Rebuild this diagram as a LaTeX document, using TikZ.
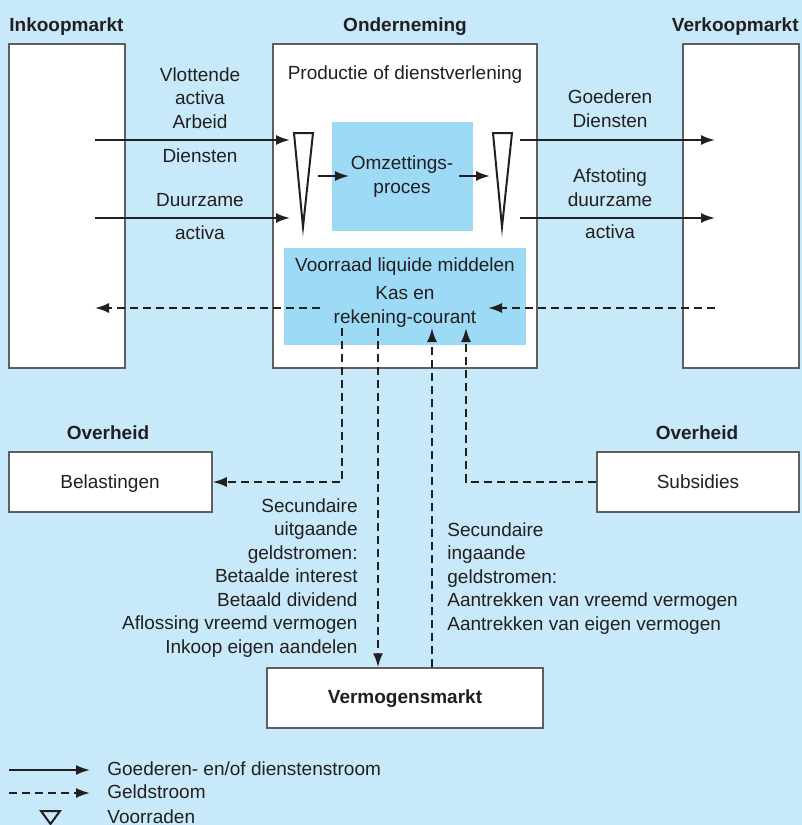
\documentclass[tikz,border=0pt]{standalone}
\usepackage{fontspec}
\setmainfont{Liberation Sans}
\usetikzlibrary{arrows.meta, fit}

\definecolor{bgblue}{RGB}{199,233,249}
\definecolor{midblue}{RGB}{157,218,246}
\definecolor{boxgrey}{RGB}{95,95,95}
\definecolor{ink}{RGB}{35,31,32}

\begin{document}
\begin{tikzpicture}[x=0.5pt, y=-0.5pt, >={Latex[length=7pt,width=5pt]},
  every node/.style={font=\fontsize{9.5}{11.75}\selectfont, text=ink, inner sep=0pt},
  head/.style={font=\fontsize{9.5}{11.75}\selectfont\bfseries},
  lbl/.style={align=center, anchor=base},
  box/.style={draw=boxgrey, line width=0.75pt, fill=white, inner sep=0pt},
  inner/.style={fill=midblue, inner sep=0pt},
  goods/.style={->, line width=1pt, draw=ink},
  money/.style={->, line width=1pt, draw=ink, dash pattern=on 4pt off 2.5pt},
  stock/.style={draw=ink, line width=1pt, line join=miter}]
  \fill [bgblue] (0,0) rectangle (802,825);
  \useasboundingbox (0,0) rectangle (802,825);

  % markets and firm
  \node [head, anchor=base west] (inkooplbl) at (9,31) {Inkoopmarkt};
  \node [head, anchor=base] (ondernlbl) at (405,31) {Onderneming};
  \node [head, anchor=base east] (verkooplbl) at (799,31) {Verkoopmarkt};
  \node [box, fit={(9,44) (125,368)}] (inkoop) {};
  \node [box, fit={(273,44) (537,368)}] (ondern) {};
  \node [box, fit={(683,44) (799,368)}] (verkoop) {};
  \node [anchor=base] (prod) at (405,79) {Productie of dienstverlening};
  \node [inner, fit={(332,122) (473,231)}] (omzet) {};
  \node [lbl] at (402,193) {Omzettings-\\proces};
  \node [inner, fit={(284,248) (526,345)}] (liquide) {};
  \node [anchor=base] (vrdlbl) at (405,271) {Voorraad liquide middelen};
  \node [lbl] (kaslbl) at (405,323) {Kas en\\rekening-courant};

  % voorraden
  \draw [stock] (294,133) -- (313,133) -- (303,227) -- cycle;
  \draw [stock] (493,133) -- (512,133) -- (502,227) -- cycle;

  % goederen- en dienstenstromen
  \coordinate (inA) at (95,140);
  \coordinate (inAe) at (290,140);
  \coordinate (inB) at (95,218);
  \coordinate (inBe) at (290,218);
  \coordinate (prA) at (318,176);
  \coordinate (prAe) at (349,176);
  \coordinate (prB) at (459,176);
  \coordinate (prBe) at (490,176);
  \coordinate (uitA) at (520,140);
  \coordinate (uitAe) at (715,140);
  \coordinate (uitB) at (520,218);
  \coordinate (uitBe) at (715,218);
  \draw [goods] (inA) -- (inAe);
  \draw [goods] (inB) -- (inBe);
  \draw [goods] (prA) -- (prAe);
  \draw [goods] (prB) -- (prBe);
  \draw [goods] (uitA) -- (uitAe);
  \draw [goods] (uitB) -- (uitBe);
  \node [lbl] at (200,128) {Vlottende\\activa\\Arbeid};
  \node [lbl] at (200,162) {Diensten};
  \node [lbl] at (200,206) {Duurzame};
  \node [lbl] at (200,239) {activa};
  \node [lbl] at (610,127) {Goederen\\Diensten};
  \node [lbl] at (610,206) {Afstoting\\duurzame};
  \node [lbl] at (610,238) {activa};

  % geldstromen
  \coordinate (betaal) at (320,308);
  \coordinate (betaale) at (95,308);
  \coordinate (ontvang) at (715,308);
  \coordinate (ontvange) at (488,308);
  \draw [money] (betaal) -- (betaale);
  \draw [money] (ontvang) -- (ontvange);

  \node [head, anchor=base] at (108,439) {Overheid};
  \node [head, anchor=base] at (697,439) {Overheid};
  \node [box, fit={(9,452) (212,512)}] (belast) {};
  \node [box, fit={(597,452) (799,512)}] (subs) {};
  \node [box, fit={(267,668) (543,728)}] (vermogen) {};
  \node [anchor=base] at (110,488) {Belastingen};
  \node [anchor=base] at (698,488) {Subsidies};
  \node [head, anchor=base] at (405,703) {Vermogensmarkt};

  \coordinate (outA) at (342,328);
  \coordinate (outB) at (378,328);
  \coordinate (inC) at (432,328);
  \coordinate (inD) at (466,328);
  \draw [money] (outA) |- (belast.east);
  \draw [money] (outB) -- (outB |- vermogen.north);
  \draw [money] (inC |- vermogen.north) -- (inC);
  \draw [money] (subs.west) -| (inD);

  \node [align=right, anchor=base east] at (358,653) {Secundaire\\uitgaande\\geldstromen:\\Betaalde interest\\Betaald dividend\\Aflossing vreemd vermogen\\Inkoop eigen aandelen};
  \node [align=left, anchor=base west] at (447,630) {Secundaire\\ingaande\\geldstromen:\\Aantrekken van vreemd vermogen\\Aantrekken van eigen vermogen};

  % legenda
  \coordinate (lgA) at (9,770);
  \coordinate (lgAe) at (90,770);
  \coordinate (lgB) at (9,793);
  \coordinate (lgBe) at (90,793);
  \draw [goods] (lgA) -- (lgAe);
  \draw [money] (lgB) -- (lgBe);
  \draw [stock] (41,811) -- (60,811) -- (50.5,824) -- cycle;
  \node [anchor=base west] at (107,775) {Goederen- en/of dienstenstroom};
  \node [anchor=base west] at (107,798) {Geldstroom};
  \node [anchor=base west] at (107,823) {Voorraden};
\end{tikzpicture}
\end{document}
